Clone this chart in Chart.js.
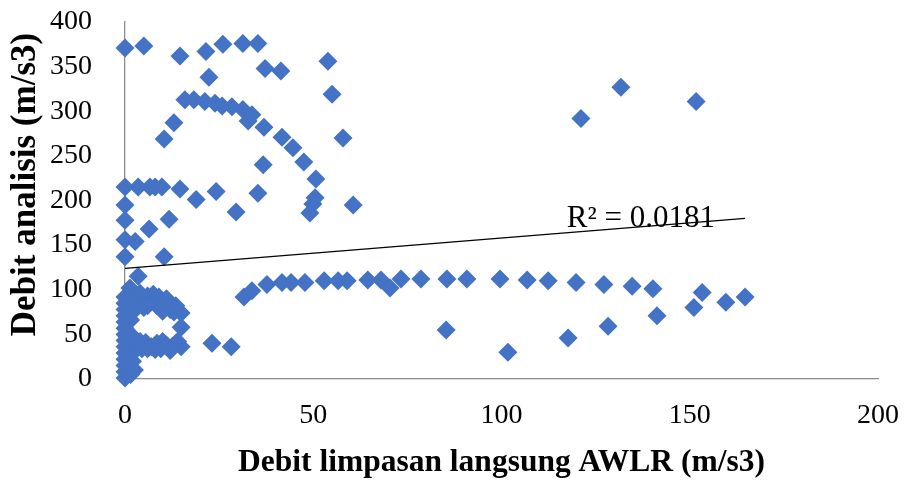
<!DOCTYPE html>
<html>
<head>
<meta charset="utf-8">
<script src="https://cdn.jsdelivr.net/npm/chart.js@4.4.1/dist/chart.umd.min.js"></script>
<style>
  html, body { margin: 0; padding: 0; background: #fff; }
  canvas { display: block; }
</style>
</head>
<body>
<canvas id="chart" width="908" height="483"></canvas>
<script>
// Direct runoff measured by the AWLR (x) against the analysed discharge (y), m/s3
const runoffAWLR = [
  0, 5.0, 14.6, 21.5, 26.0, 31.3, 35.3, 37.2, 41.4, 53.9, 55.0, 22.3, 57.9,
  10.4, 13.0, 15.9, 18.3, 21.2, 23.9, 25.8, 28.4, 31.3, 33.7, 32.7, 36.9, 41.7, 44.6, 47.5, 50.7, 50.5, 49.9, 49.1,
  36.7, 35.3, 29.5, 60.6, 24.2, 18.9, 11.7, 14.6, 6.4, 9.8, 8.0, 6.6, 3.5, 0, 0, 0, 0, 2.7, 0, 10.4, 3.5, 1.3,
  31.6, 33.7, 37.7, 41.7, 44.1, 47.8, 52.9, 56.6, 59.0, 64.5, 68.0, 70.4, 73.3, 78.6, 85.5, 90.8, 99.6, 106.8,
  112.4, 119.8, 127.2, 134.7, 140.2, 153.3, 164.7, 159.6, 151.1, 141.3, 128.3, 117.7, 101.7, 85.3,
  121.1, 131.7, 151.7,
  23.1, 28.2, 14.9, 14.9, 14.9,
  0, 0, 0, 0, 0, 0, 0, 0, 0, 0, 0, 0, 0, 0,
  1.5, 1.0, 2.0, 1.5, 2.5,
  3.0, 4.5, 5.5, 7.0, 8.5, 9.5, 11.0, 12.5, 13.5, 2.5, 1.5, 4.0, 6.0, 10.0, 14.0, 8.0, 12.0,
  1.5, 2.0, 3.0, 3.5, 5.0, 6.0, 7.5, 8.5, 9.5, 10.5, 12.0, 13.0, 11.5, 5.0, 7.5,
  4.0, 9.0, 11.0, 13.5, 2.0, 6.0, 10.0
];
const debitAnalisis = [
  371, 373, 362, 367, 375, 376, 376, 348, 345, 356, 319, 338, 270,
  269, 287, 313, 313, 311, 309, 306, 305, 302, 296, 289, 282, 271, 259, 243, 224, 203, 196, 186,
  240, 208, 187, 195, 210, 201, 179, 213, 168, 215, 215, 215, 215, 215, 195, 178, 156, 154, 137, 137, 115, 102,
  92, 99, 106, 108, 108, 108, 110, 110, 110, 111, 111, 102, 112, 112, 112, 112, 112, 111,
  110, 108, 106, 104, 101, 97, 92, 86, 80, 71, 59, 46, 30, 55,
  292, 327, 311,
  40, 36, 36, 58, 74,
  1, 8, 15, 22, 29, 36, 43, 50, 57, 64, 71, 78, 85, 92,
  5, 14, 20, 27, 10,
  38, 34, 41, 36, 40, 34, 38, 36, 40, 45, 50, 42, 34, 42, 42, 33, 32,
  66, 75, 82, 90, 86, 93, 88, 82, 88, 80, 78, 75, 84, 80, 95,
  96, 92, 90, 82, 88, 82, 76
];

// Linear trend line and its fit statistic
const trendRunoff = [0, 164.7];
const trendDebit = [124, 180];
const rSquaredLabel = 'R² = 0.0181';
const rSquaredAt = [137, 179];

// Axis ticks and titles
const xTicks = [0, 50, 100, 150, 200];
const yTicks = [0, 50, 100, 150, 200, 250, 300, 350, 400];
const xTitle = 'Debit limpasan langsung AWLR (m/s3)';
const yTitle = 'Debit analisis (m/s3)';

const SERIF = '"Liberation Serif", "Times New Roman", serif';
const AXIS_GREY = '#8c8c8c';

const scatterPoints = runoffAWLR.map((x, i) => ({ x, y: debitAnalisis[i] }));
const trendPoints = trendRunoff.map((x, i) => ({ x, y: trendDebit[i] }));

const labelsPlugin = {
  id: 'labelsPlugin',
  afterDatasetsDraw(chart) {
    const { ctx, scales: { x, y }, chartArea } = chart;
    ctx.save();
    ctx.fillStyle = '#000';
    ctx.textAlign = 'center';
    ctx.textBaseline = 'middle';

    ctx.font = '31px ' + SERIF;
    ctx.fillText(rSquaredLabel, x.getPixelForValue(rSquaredAt[0]), y.getPixelForValue(rSquaredAt[1]));

    ctx.font = 'bold 31.5px ' + SERIF;
    ctx.fillText(xTitle, (chartArea.left + chartArea.right) / 2, 463);

    ctx.font = 'bold 35px ' + SERIF;
    ctx.translate(26, (chartArea.top + chartArea.bottom) / 2 - 16);
    ctx.rotate(-Math.PI / 2);
    ctx.fillText(yTitle, 0, 0);
    ctx.restore();
  }
};

// invisible tick marks keep label spacing without widening the layout padding
const hiddenGrid = (len) => ({
  display: true,
  drawOnChartArea: false,
  drawTicks: true,
  tickLength: len,
  color: 'rgba(0,0,0,0)'
});

new Chart(document.getElementById('chart'), {
  type: 'scatter',
  data: {
    datasets: [
      {
        label: 'Trend',
        data: trendPoints,
        showLine: true,
        borderColor: '#000',
        borderWidth: 1.3,
        pointRadius: 0,
        pointHoverRadius: 0,
        fill: false,
        clip: false,
        order: 0
      },
      {
        label: 'Debit',
        data: scatterPoints,
        pointStyle: 'rectRot',
        pointRadius: 9.5,
        pointHoverRadius: 9.5,
        backgroundColor: '#4472C4',
        borderColor: '#4472C4',
        pointBorderWidth: 0,
        clip: false,
        order: 1
      }
    ]
  },
  options: {
    responsive: false,
    animation: false,
    devicePixelRatio: 1,
    layout: { padding: { top: 22, right: 30, bottom: 0, left: 0 } },
    plugins: {
      legend: { display: false },
      tooltip: { enabled: false }
    },
    scales: {
      x: {
        type: 'linear',
        min: xTicks[0],
        max: xTicks[xTicks.length - 1],
        ticks: {
          stepSize: xTicks[1] - xTicks[0],
          color: '#000',
          font: { family: SERIF, size: 28 },
          padding: 0
        },
        grid: hiddenGrid(20),
        border: { display: true, color: AXIS_GREY, width: 1.3 },
        afterFit(scale) { scale.height = 104; }
      },
      y: {
        type: 'linear',
        min: yTicks[0],
        max: yTicks[yTicks.length - 1],
        ticks: {
          stepSize: yTicks[1] - yTicks[0],
          color: '#000',
          font: { family: SERIF, size: 28 },
          padding: 0
        },
        grid: hiddenGrid(33),
        border: { display: true, color: AXIS_GREY, width: 1.3 },
        afterFit(scale) { scale.width = 125; }
      }
    }
  },
  plugins: [labelsPlugin]
});
</script>
</body>
</html>
